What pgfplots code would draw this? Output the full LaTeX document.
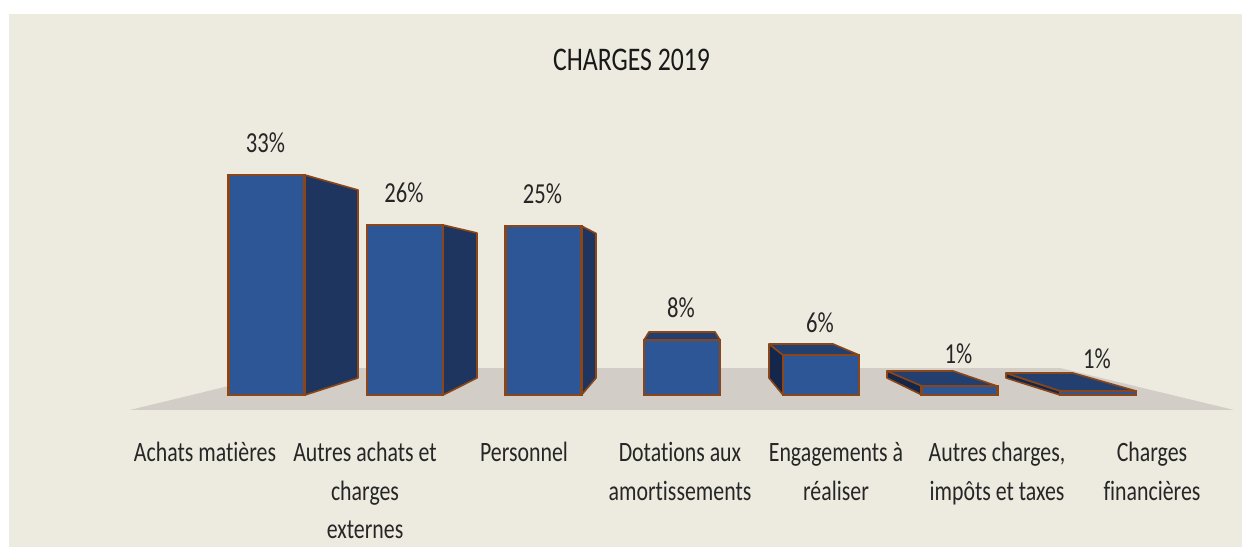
\documentclass[border=0pt]{standalone}
\usepackage{pgfplots}
\usepackage{fontspec}
\setmainfont[FakeStretch=0.78,Ligatures=NoCommon]{Carlito}
\pgfplotsset{compat=1.18}
\definecolor{panel}{HTML}{EDEADF}
\definecolor{floorc}{HTML}{D2CEC7}
\definecolor{front}{HTML}{2D5696}
\definecolor{side}{HTML}{1E355F}
\definecolor{sided}{HTML}{14274A}
\definecolor{topc}{HTML}{233F70}
\definecolor{edge}{HTML}{8A4518}
\begin{document}
\begin{tikzpicture}
\begin{axis}[
  width=1242pt,height=547pt,scale only axis,
  xmin=0,xmax=1242,ymin=-23.03,ymax=59.85,
  clip=false,
  axis on top,
  axis line style={draw=none},
  tick style={draw=none},
  ytick=\empty,
  xtick={205,365,524,680,836,997,1152},
  xticklabels={Achats matières,Autres achats et\\charges\\externes,Personnel,Dotations aux\\amortissements,Engagements à\\réaliser,{Autres charges,\\impôts et taxes},Charges\\financières},
  xticklabel style={align=center,font=\fontsize{28}{38.5}\selectfont,text=black!85,anchor=north,yshift=108pt},
  title={CHARGES 2019},
  title style={at={(0.5085,0.879)},anchor=center,font=\fontsize{33}{36}\selectfont,text=black!90},
]
\addplot[draw=none,fill=panel] coordinates {(9,-23.03)(9,57.73)(1242,57.73)(1242,-23.03)} -- cycle;
\addplot[draw=none,fill=floorc] coordinates {(130,-2.27)(303,4.09)(1060,4.09)(1234,-2.27)} -- cycle;
% side and top faces
\addplot[fill=side,draw=edge,line width=1.6pt,line join=round] coordinates {(305,33.33)(358,31.06)(358,2.58)(305,0)} -- cycle;
\addplot[fill=side,draw=edge,line width=1.6pt,line join=round] coordinates {(443,25.76)(477,24.55)(477,2.58)(443,0)} -- cycle;
\addplot[fill=side,draw=edge,line width=1.6pt,line join=round] coordinates {(581.5,25.61)(596,24.47)(596,2.58)(581.5,0)} -- cycle;
\addplot[fill=topc,draw=edge,line width=1.6pt,line join=round] coordinates {(644,8.33)(649,9.55)(715,9.55)(720,8.33)} -- cycle;
\addplot[fill=sided,draw=edge,line width=1.6pt,line join=round] coordinates {(783,6.06)(769,7.73)(769,2.58)(783,0)} -- cycle;
\addplot[fill=topc,draw=edge,line width=1.6pt,line join=round] coordinates {(783,6.06)(769,7.73)(833,7.73)(859,6.06)} -- cycle;
\addplot[fill=sided,draw=edge,line width=1.6pt,line join=round] coordinates {(922,1.36)(887,3.64)(887,2.58)(922,0)} -- cycle;
\addplot[fill=topc,draw=edge,line width=1.6pt,line join=round] coordinates {(922,1.36)(887,3.64)(953,3.64)(997,1.36)} -- cycle;
\addplot[fill=sided,draw=edge,line width=1.6pt,line join=round] coordinates {(1060,0.61)(1006,3.33)(1006,2.58)(1060,0)} -- cycle;
\addplot[fill=topc,draw=edge,line width=1.6pt,line join=round] coordinates {(1060,0.61)(1006,3.33)(1073,3.33)(1136,0.61)} -- cycle;
% front faces with the data labels
\addplot[ybar,bar width=76pt,fill=front,draw=edge,line width=2.4pt,
  nodes near coords,point meta=explicit symbolic,
  every node near coord/.append style={font=\fontsize{29}{32}\selectfont,text=black!85,anchor=center,yshift=32pt,xshift=-1pt}]
 coordinates {(266.5,33.33)[33\%](405,25.76)[26\%](543.5,25.61)[25\%](682,8.33)[8\%](821,6.06)[6\%](959.5,1.36)[1\%](1098,0.61)[1\%]};
\end{axis}
\end{tikzpicture}
\end{document}
